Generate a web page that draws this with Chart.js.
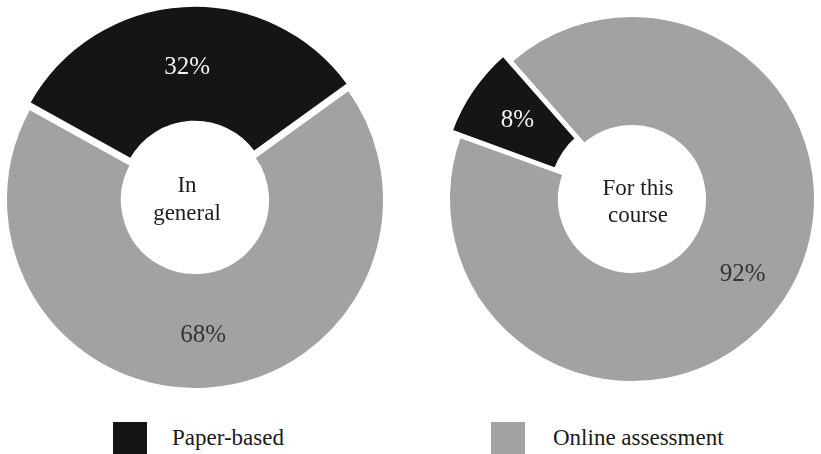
<!DOCTYPE html>
<html>
<head>
<meta charset="utf-8">
<script src="https://cdn.jsdelivr.net/npm/chart.js@4/dist/chart.umd.min.js"></script>
<style>
  html, body { margin: 0; padding: 0; background: #fff; overflow: hidden; }
  body { width: 821px; height: 454px; position: relative; font-family: "Liberation Serif", "Times New Roman", Times, serif; }
  canvas { position: absolute; top: 0; }
  #c1 { left: 0; }
  #c2 { left: 446px; }
  .sw { position: absolute; top: 422px; width: 34px; height: 34px; }
  .lt { position: absolute; top: 426px; font-size: 23px; line-height: 23px; color: #1a1a1a; white-space: nowrap; }
</style>
</head>
<body>
<canvas id="c1" width="390" height="400"></canvas>
<canvas id="c2" width="372" height="398"></canvas>
<div class="sw" style="left:113px;background:#151515"></div>
<div class="lt" id="lg0" style="left:172px"></div>
<div class="sw" style="left:491px;background:#a2a2a2"></div>
<div class="lt" id="lg1" style="left:553px"></div>
<script>
// ---- data ----
const categories = ["Paper-based", "Online assessment"];
const generalValues = [32, 68];
const courseValues = [8, 92];
const centerTitles = [["In", "general"], ["For this", "course"]];
const sliceColors = ["#151515", "#a2a2a2"];
const labelColors = ["#f2f2f2", "#333333"];
const FONT = "'Liberation Serif', 'Times New Roman', Times, serif";

document.getElementById("lg0").textContent = categories[0];
document.getElementById("lg1").textContent = categories[1];

const labelPlugin = {
  id: "sliceLabels",
  afterDatasetsDraw(chart, args, opts) {
    const ctx = chart.ctx;
    const meta = chart.getDatasetMeta(0);
    const vals = chart.data.datasets[0].data;
    ctx.save();
    ctx.font = "25px " + FONT;
    ctx.textAlign = "center";
    ctx.textBaseline = "middle";
    meta.data.forEach((arc, i) => {
      const mid = (arc.startAngle + arc.endAngle) / 2;
      const r = (arc.innerRadius + arc.outerRadius) / 2 + opts.extra[i];
      ctx.fillStyle = labelColors[i];
      ctx.fillText(vals[i] + "%", arc.x + Math.cos(mid) * r, arc.y + Math.sin(mid) * r);
    });
    const a = meta.data[1];
    const cx = a.x + (opts.tx || 0), cy = a.y;
    ctx.font = "23px " + FONT;
    ctx.fillStyle = "#1e1e1e";
    ctx.textBaseline = "alphabetic";
    const lines = opts.title;
    ctx.fillText(lines[0], cx, cy + opts.b1);
    ctx.fillText(lines[1], cx, cy + opts.b2);
    ctx.restore();
  }
};

function makeChart(id, values, rotation, radius, cutout, offset, pluginOpts) {
  return new Chart(document.getElementById(id), {
    type: "doughnut",
    data: {
      labels: categories,
      datasets: [{
        data: values,
        backgroundColor: sliceColors,
        borderColor: "#ffffff",
        borderWidth: 3,
        borderJoinStyle: "miter",
        offset: [offset, 0],
        hoverOffset: 0,
        clip: false
      }]
    },
    options: {
      responsive: false,
      animation: false,
      rotation: rotation,
      radius: radius,
      cutout: cutout,
      layout: { padding: 0 },
      events: [],
      plugins: {
        legend: { display: false },
        tooltip: { enabled: false },
        sliceLabels: pluginOpts
      }
    },
    plugins: [labelPlugin]
  });
}

makeChart("c1", generalValues, -61, 189.5, "38.3%", 19,
  { title: centerTitles[0], tx: -8, b1: -8, b2: 20, extra: [2, 5] });
makeChart("c2", courseValues, -70, 183.5, "39.5%", 26,
  { title: centerTitles[1], tx: 6, b1: -4, b2: 23, extra: [11, 6] });
</script>
</body>
</html>
